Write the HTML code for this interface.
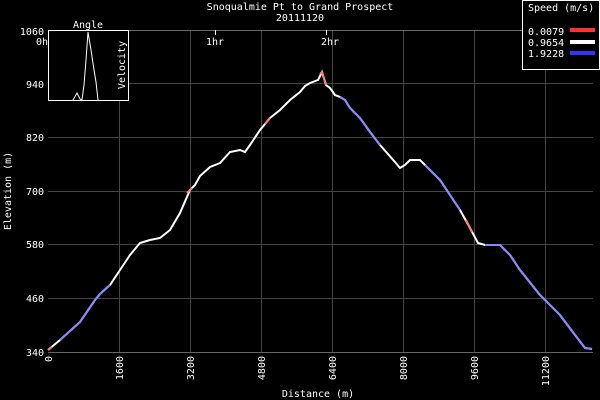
<!DOCTYPE html>
<html><head><style>
html,body{margin:0;padding:0;background:#000;}
svg{display:block;font-family:"DejaVu Sans Mono","Liberation Mono",monospace;}
</style></head><body>
<svg width="600" height="400" viewBox="0 0 600 400" xmlns="http://www.w3.org/2000/svg">
<rect width="600" height="400" fill="#000"/>
<g stroke="#444" stroke-width="1">
<line x1="119.5" y1="30" x2="119.5" y2="352"/><line x1="190.5" y1="30" x2="190.5" y2="352"/>
<line x1="261.5" y1="30" x2="261.5" y2="352"/><line x1="332.5" y1="30" x2="332.5" y2="352"/>
<line x1="403.5" y1="30" x2="403.5" y2="352"/><line x1="474.5" y1="30" x2="474.5" y2="352"/>
<line x1="545.5" y1="30" x2="545.5" y2="352"/>
<line x1="48" y1="83.5" x2="593" y2="83.5"/><line x1="48" y1="137.5" x2="593" y2="137.5"/>
<line x1="48" y1="191.5" x2="593" y2="191.5"/><line x1="48" y1="244.5" x2="593" y2="244.5"/>
<line x1="48" y1="298.5" x2="593" y2="298.5"/>
</g>
<line x1="48" y1="352.5" x2="593" y2="352.5" stroke="#666"/>
<line x1="48" y1="30.5" x2="593" y2="30.5" stroke="#666"/>
<g stroke="#fff"><line x1="215.5" y1="30" x2="215.5" y2="35"/><line x1="326.5" y1="30" x2="326.5" y2="35"/></g>
<g fill="#fff" font-size="10" text-anchor="middle">
<text x="300" y="10">Snoqualmie Pt to Grand Prospect</text>
<text x="300" y="21">20111120</text>
<text x="318" y="397">Distance (m)</text>
<text x="215" y="45">1hr</text><text x="330" y="45">2hr</text><text x="42" y="45">0h</text>
</g>
<g fill="#fff" font-size="10" text-anchor="end">
<text x="44" y="35">1060</text><text x="44" y="88">940</text><text x="44" y="141">820</text>
<text x="44" y="195">700</text><text x="44" y="248">580</text><text x="44" y="302">460</text>
<text x="44" y="356">340</text>
</g>
<g fill="#fff" font-size="10" text-anchor="end">
<text transform="translate(52,356) rotate(-90)">0</text>
<text transform="translate(123,356) rotate(-90)">1600</text>
<text transform="translate(194,356) rotate(-90)">3200</text>
<text transform="translate(265,356) rotate(-90)">4800</text>
<text transform="translate(336,356) rotate(-90)">6400</text>
<text transform="translate(407,356) rotate(-90)">8000</text>
<text transform="translate(478,356) rotate(-90)">9600</text>
<text transform="translate(549,356) rotate(-90)">11200</text>
</g>
<text transform="translate(11,191) rotate(-90)" fill="#fff" font-size="10" text-anchor="middle">Elevation (m)</text>
<polyline fill="none" stroke="#fff" stroke-width="2" points="48,350 60,340 80,322 95,300 100,294 110,285 120,270 130,255 140,243 150,240 160,238 170,230 180,213 190,190 195,185 200,176 210,167 220,163 230,152 240,150 245,152 250,145 260,130 270,118 280,110 290,100 300,92 305,86 310,83 318,80 322,72 326,85 330,88 335,95 340,97 345,100 350,108 360,118 370,132 380,145 395,162 400,168 405,165 410,160 420,160 425,165 440,180 450,195 460,210 470,228 478,243 485,245 500,245 510,255 520,270 540,295 560,315 575,335 585,348 592,349"/>
<g fill="none" stroke="#8888ff" stroke-width="2">
<polyline points="60,340 80,322 95,300 100,294 110,285"/>
<polyline points="340,97 345,100 350,108 360,118 370,132 380,145"/>
<polyline points="425,165 440,180 450,195 460,210"/>
<polyline points="485,245 500,245 510,255 520,270 540,295 560,315 575,335 585,348 592,349"/>
</g>
<g fill="none" stroke="#ff8080" stroke-width="2">
<polyline points="48,350 52,347"/><polyline points="187,193 192,188"/>
<polyline points="265,124 270,118"/><polyline points="320,74 322,72 326,85"/>
<polyline points="466,220 472,232"/>
</g>
<rect x="48.5" y="30.5" width="80" height="70" fill="#000" stroke="#fff"/>
<polyline fill="none" stroke="#fff" points="73,100 77,93 80,99 82,100 84,85 86,60 88,32 91,50 94,70 96,82 98,100"/>
<text x="88" y="28" fill="#fff" font-size="10" text-anchor="middle">Angle</text>
<text transform="translate(125,65) rotate(-90)" fill="#fff" font-size="10" text-anchor="middle">Velocity</text>
<rect x="522.5" y="0.5" width="77" height="69" fill="#000" stroke="#fff"/>
<g fill="#fff" font-size="10"><text x="528" y="11">Speed (m/s)</text>
<text x="528" y="35">0.0079</text><text x="528" y="46">0.9654</text><text x="528" y="57">1.9228</text></g>
<rect x="570" y="28" width="25" height="4" fill="#ff3333"/>
<rect x="570" y="40" width="25" height="4" fill="#fff"/>
<rect x="570" y="51" width="25" height="4" fill="#3333ff"/>
</svg>
</body></html>
